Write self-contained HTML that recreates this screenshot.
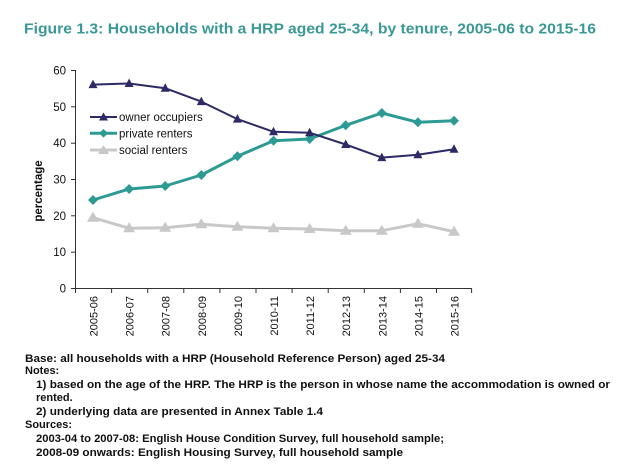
<!DOCTYPE html>
<html>
<head>
<meta charset="utf-8">
<style>
  html,body{margin:0;padding:0;background:#fff;}
  svg{display:block;}
  text{font-family:"Liberation Sans",Arial,sans-serif;}
</style>
</head>
<body>
<svg width="626" height="469" viewBox="0 0 626 469" xmlns="http://www.w3.org/2000/svg">
  <rect width="626" height="469" fill="#fff"/>
  <!-- Title -->
  <text x="24" y="33.3" font-size="15" font-weight="bold" fill="#3a9896" textLength="572" lengthAdjust="spacingAndGlyphs">Figure 1.3: Households with a HRP aged 25-34, by tenure, 2005-06 to 2015-16</text>

  <!-- Axes -->
  <g stroke="#333" stroke-width="1" fill="none">
    <line x1="75.5" y1="70" x2="75.5" y2="288.5"/>
    <line x1="75" y1="288.5" x2="472" y2="288.5"/>
    <line x1="71" y1="70.5" x2="75.5" y2="70.5"/>
    <line x1="71" y1="106.8" x2="75.5" y2="106.8"/>
    <line x1="71" y1="143.2" x2="75.5" y2="143.2"/>
    <line x1="71" y1="179.5" x2="75.5" y2="179.5"/>
    <line x1="71" y1="215.8" x2="75.5" y2="215.8"/>
    <line x1="71" y1="252.2" x2="75.5" y2="252.2"/>
    <line x1="71" y1="288.5" x2="75.5" y2="288.5"/>
    <line x1="75.5" y1="288.5" x2="75.5" y2="293"/>
    <line x1="111.6" y1="288.5" x2="111.6" y2="293"/>
    <line x1="147.7" y1="288.5" x2="147.7" y2="293"/>
    <line x1="183.8" y1="288.5" x2="183.8" y2="293"/>
    <line x1="219.9" y1="288.5" x2="219.9" y2="293"/>
    <line x1="256.0" y1="288.5" x2="256.0" y2="293"/>
    <line x1="292.1" y1="288.5" x2="292.1" y2="293"/>
    <line x1="328.2" y1="288.5" x2="328.2" y2="293"/>
    <line x1="364.3" y1="288.5" x2="364.3" y2="293"/>
    <line x1="400.4" y1="288.5" x2="400.4" y2="293"/>
    <line x1="436.5" y1="288.5" x2="436.5" y2="293"/>
    <line x1="471.6" y1="288.5" x2="471.6" y2="293"/>
  </g>

  <!-- y tick labels -->
  <g font-size="11.5" fill="#111" text-anchor="end">
    <text x="66" y="74.5">60</text>
    <text x="66" y="110.8">50</text>
    <text x="66" y="147.2">40</text>
    <text x="66" y="183.5">30</text>
    <text x="66" y="219.8">20</text>
    <text x="66" y="256.2">10</text>
    <text x="66" y="292.5">0</text>
  </g>

  <!-- x tick labels -->
  <g font-size="11" fill="#111" text-anchor="end">
    <text transform="translate(97.5,296) rotate(-90)">2005-06</text>
    <text transform="translate(133.6,296) rotate(-90)">2006-07</text>
    <text transform="translate(169.7,296) rotate(-90)">2007-08</text>
    <text transform="translate(205.8,296) rotate(-90)">2008-09</text>
    <text transform="translate(241.9,296) rotate(-90)">2009-10</text>
    <text transform="translate(278.0,296) rotate(-90)">2010-11</text>
    <text transform="translate(314.1,296) rotate(-90)">2011-12</text>
    <text transform="translate(350.2,296) rotate(-90)">2012-13</text>
    <text transform="translate(386.3,296) rotate(-90)">2013-14</text>
    <text transform="translate(422.4,296) rotate(-90)">2014-15</text>
    <text transform="translate(458.5,296) rotate(-90)">2015-16</text>
  </g>

  <!-- y axis title -->
  <text transform="translate(42,191) rotate(-90)" font-size="11.5" font-weight="bold" fill="#111" text-anchor="middle">percentage</text>

  <!-- social renters -->
  <polyline fill="none" stroke="#c8c8c8" stroke-width="3" stroke-linejoin="round"
    points="93,217.7 129.1,228.3 165.2,227.7 201.3,224.3 237.4,226.7 273.5,228.3 309.6,229 345.7,230.7 381.8,230.7 417.9,223.7 454,231.7"/>
  <g fill="#c8c8c8">
    <polygon points="93,211.7 99,221.7 87,221.7"/>
    <polygon points="129.1,222.3 135.1,232.3 123.1,232.3"/>
    <polygon points="165.2,221.7 171.2,231.7 159.2,231.7"/>
    <polygon points="201.3,218.3 207.3,228.3 195.3,228.3"/>
    <polygon points="237.4,220.7 243.4,230.7 231.4,230.7"/>
    <polygon points="273.5,222.3 279.5,232.3 267.5,232.3"/>
    <polygon points="309.6,223 315.6,233 303.6,233"/>
    <polygon points="345.7,224.7 351.7,234.7 339.7,234.7"/>
    <polygon points="381.8,224.7 387.8,234.7 375.8,234.7"/>
    <polygon points="417.9,217.7 423.9,227.7 411.9,227.7"/>
    <polygon points="454,225.7 460,235.7 448,235.7"/>
  </g>

  <!-- private renters -->
  <polyline fill="none" stroke="#2e9a94" stroke-width="3" stroke-linejoin="round"
    points="93,200 129.1,189 165.2,186 201.3,175 237.4,156.3 273.5,140.7 309.6,139 345.7,125.3 381.8,113 417.9,122.3 454,120.7"/>
  <g fill="#2e9a94">
    <polygon points="93,195 98,200 93,205 88,200"/>
    <polygon points="129.1,184 134.1,189 129.1,194 124.1,189"/>
    <polygon points="165.2,181 170.2,186 165.2,191 160.2,186"/>
    <polygon points="201.3,170 206.3,175 201.3,180 196.3,175"/>
    <polygon points="237.4,151.3 242.4,156.3 237.4,161.3 232.4,156.3"/>
    <polygon points="273.5,135.7 278.5,140.7 273.5,145.7 268.5,140.7"/>
    <polygon points="309.6,134 314.6,139 309.6,144 304.6,139"/>
    <polygon points="345.7,120.3 350.7,125.3 345.7,130.3 340.7,125.3"/>
    <polygon points="381.8,108 386.8,113 381.8,118 376.8,113"/>
    <polygon points="417.9,117.3 422.9,122.3 417.9,127.3 412.9,122.3"/>
    <polygon points="454,115.7 459,120.7 454,125.7 449,120.7"/>
  </g>

  <!-- owner occupiers -->
  <polyline fill="none" stroke="#2d2a66" stroke-width="2" stroke-linejoin="round"
    points="93,84.6 129.1,83.5 165.2,88.2 201.3,101.6 237.4,119.1 273.5,131.8 309.6,132.7 345.7,144.5 381.8,157.6 417.9,154.7 454,149.2"/>
  <g fill="#2d2a66">
    <polygon points="93,79.6 97.5,88.1 88.5,88.1"/>
    <polygon points="129.1,78.5 133.6,87 124.6,87"/>
    <polygon points="165.2,83.2 169.7,91.7 160.7,91.7"/>
    <polygon points="201.3,96.6 205.8,105.1 196.8,105.1"/>
    <polygon points="237.4,114.1 241.9,122.6 232.9,122.6"/>
    <polygon points="273.5,126.8 278,135.3 269,135.3"/>
    <polygon points="309.6,127.7 314.1,136.2 305.1,136.2"/>
    <polygon points="345.7,139.5 350.2,148 341.2,148"/>
    <polygon points="381.8,152.6 386.3,161.1 377.3,161.1"/>
    <polygon points="417.9,149.7 422.4,158.2 413.4,158.2"/>
    <polygon points="454,144.2 458.5,152.7 449.5,152.7"/>
  </g>

  <!-- Legend -->
  <line x1="90" y1="117" x2="117" y2="117" stroke="#2d2a66" stroke-width="2"/>
  <polygon points="103.5,112.5 108,120.5 99,120.5" fill="#2d2a66"/>
  <line x1="90" y1="133.3" x2="117" y2="133.3" stroke="#2e9a94" stroke-width="3"/>
  <polygon points="103.5,129 108,133.3 103.5,137.6 99,133.3" fill="#2e9a94"/>
  <line x1="90" y1="150" x2="117" y2="150" stroke="#c8c8c8" stroke-width="3"/>
  <polygon points="103.5,145 109,154 98,154" fill="#c8c8c8"/>
  <g font-size="11.5" fill="#111">
    <text x="119" y="121">owner occupiers</text>
    <text x="119" y="137.3">private renters</text>
    <text x="119" y="154">social renters</text>
  </g>

  <!-- Footer -->
  <g font-size="11" font-weight="bold" fill="#111">
    <text x="25" y="362" textLength="420" lengthAdjust="spacingAndGlyphs">Base: all households with a HRP (Household Reference Person) aged 25-34</text>
    <text x="25" y="374">Notes:</text>
    <text x="36" y="388" textLength="574" lengthAdjust="spacingAndGlyphs">1) based on the age of the HRP. The HRP is the person in whose name the accommodation is owned or</text>
    <text x="36" y="401">rented.</text>
    <text x="36" y="415" textLength="287" lengthAdjust="spacingAndGlyphs">2) underlying data are presented in Annex Table 1.4</text>
    <text x="25" y="428">Sources:</text>
    <text x="36" y="442" textLength="408" lengthAdjust="spacingAndGlyphs">2003-04 to 2007-08: English House Condition Survey, full household sample;</text>
    <text x="36" y="456" textLength="367" lengthAdjust="spacingAndGlyphs">2008-09 onwards: English Housing Survey, full household sample</text>
  </g>
</svg>
</body>
</html>
